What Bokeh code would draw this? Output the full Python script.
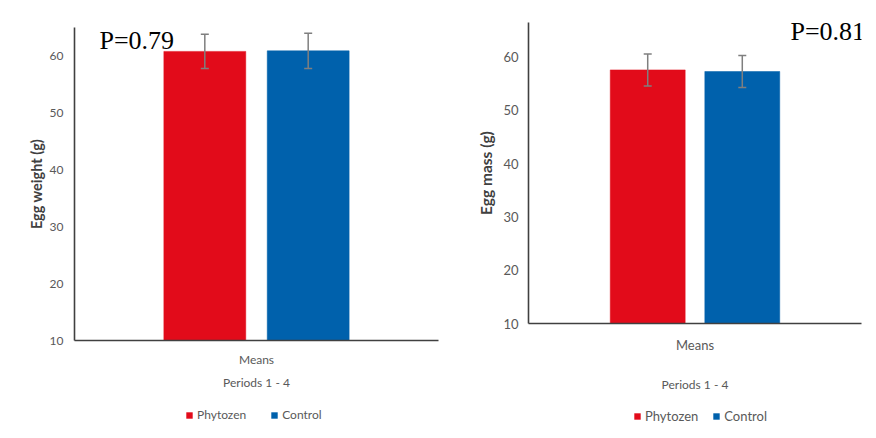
from bokeh.plotting import figure
from bokeh.models import (ColumnDataSource, Range1d, FactorRange, Whisker, TeeHead,
                          Legend, LegendItem, Label, FixedTicker)
from bokeh.transform import dodge
from bokeh.layouts import row, column
from bokeh.embed import file_html
from bokeh.resources import INLINE

# ---- data ----
category = ["Means"]
groups = ["Phytozen", "Control"]
colors = ["#E20B1A", "#0061AC"]
egg_weight = [60.8, 60.9]
egg_weight_err = [3.0, 3.1]
egg_mass = [57.6, 57.3]
egg_mass_err = [3.0, 3.0]
y_ticks = [10, 20, 30, 40, 50, 60]
p_left = "P=0.79"
p_right = "P=0.81"

FONT = "Lato"
TICK_COL = "#595959"
AX_COL = "#404040"
OFFS = [-0.142, 0.142]
BW = 0.225


def panel(values, errs, ylabel, ptext, ymax, width, height, bl, br, bt, bb, px, py,
          tick_standoff, label_standoff, label_size, tick_size, mstand, astand,
          leg_h, leg_x, leg_font, leg_sp):
    p = figure(x_range=FactorRange(*category, range_padding=0),
               y_range=Range1d(10, ymax), width=width, height=height,
               output_backend="svg", toolbar_location=None,
               min_border_left=bl, min_border_right=br,
               min_border_top=bt, min_border_bottom=bb)
    p.outline_line_color = None
    p.xgrid.grid_line_color = None
    p.ygrid.grid_line_color = None
    p.background_fill_color = "white"
    p.border_fill_color = "white"

    sources = []
    for i, g in enumerate(groups):
        src = ColumnDataSource(dict(cat=category, val=[values[i]],
                                    upper=[values[i] + errs[i]],
                                    lower=[values[i] - errs[i]]))
        sources.append(src)
        p.vbar(x=dodge("cat", OFFS[i], range=p.x_range), top="val", bottom=10,
               width=BW, source=src, fill_color=colors[i],
               line_color=colors[i], line_alpha=0.5)
        w = Whisker(base=dodge("cat", OFFS[i], range=p.x_range), upper="upper",
                    lower="lower", source=src, line_color="#7f7f7f", line_width=1.5,
                    level="overlay",
                    upper_head=TeeHead(size=8, line_color="#7f7f7f", line_width=1.5),
                    lower_head=TeeHead(size=8, line_color="#7f7f7f", line_width=1.5))
        p.add_layout(w)

    p.yaxis.ticker = FixedTicker(ticks=y_ticks)
    for ax in (p.xaxis[0], p.yaxis[0]):
        ax.axis_line_color = AX_COL
        ax.axis_line_width = 1.6
        ax.major_tick_line_color = None
        ax.minor_tick_line_color = None
        ax.major_label_text_font = FONT
        ax.major_label_text_font_size = tick_size
        ax.major_label_text_color = TICK_COL
        ax.axis_label_text_font = FONT
        ax.axis_label_text_font_style = "normal"
    p.yaxis.axis_label = ylabel
    p.yaxis.axis_label_text_font_size = label_size
    p.yaxis.axis_label_text_font_style = "bold"
    p.yaxis.axis_label_text_color = AX_COL
    p.yaxis.major_label_standoff = tick_standoff
    p.yaxis.axis_label_standoff = label_standoff
    p.xaxis.axis_label = "Periods 1 - 4"
    p.xaxis.axis_label_text_font_size = "12px"
    p.xaxis.axis_label_text_color = TICK_COL
    p.xaxis.major_label_standoff = mstand
    p.xaxis.axis_label_standoff = astand

    p.add_layout(Label(x=px, y=py, x_units="screen", y_units="screen", text=ptext,
                       text_font="Liberation Serif", text_font_size="26px",
                       text_baseline="alphabetic", text_color="black"))

    # legend strip below the chart (its zero-width bars lie outside its 0..1 range)
    lg = figure(width=width, height=leg_h, output_backend="svg", toolbar_location=None,
                x_axis_type=None, y_axis_type=None, min_border=0,
                x_range=Range1d(0, 1), y_range=Range1d(0, 1))
    lg.outline_line_color = None
    lg.xgrid.grid_line_color = None
    lg.ygrid.grid_line_color = None
    items = []
    for i, g in enumerate(groups):
        r = lg.vbar(x=0.5, top="val", bottom=10, width=0, source=sources[i],
                    fill_color=colors[i], line_color=None)
        items.append(LegendItem(label=g, renderers=[r]))
    leg = Legend(items=items, orientation="horizontal", location=(leg_x, 8),
                 label_text_font=FONT, label_text_font_size=leg_font,
                 label_text_color=TICK_COL, glyph_width=8, glyph_height=8,
                 spacing=leg_sp, label_standoff=4, border_line_color=None,
                 background_fill_alpha=0, padding=0, margin=0)
    lg.add_layout(leg)
    return column(p, lg)


left = panel(egg_weight, egg_weight_err, "Egg weight (g)", p_left, 65,
             448, 400, 74, 10, 27, 60, 25, 300, 5, 2, "14.5px", "12px", 5, 5,
             30, 111, "12px", 24)
right = panel(egg_mass, egg_mass_err, "Egg mass (g)", p_right, 66.5,
              428, 402, 80, 15, 22, 79, 262, 292, 4, 5, "15.5px", "13px", 7, 21,
              30, 105, "13px", 14)

layout = row(left, right)
open("out.html", "w").write(file_html(layout, INLINE))
